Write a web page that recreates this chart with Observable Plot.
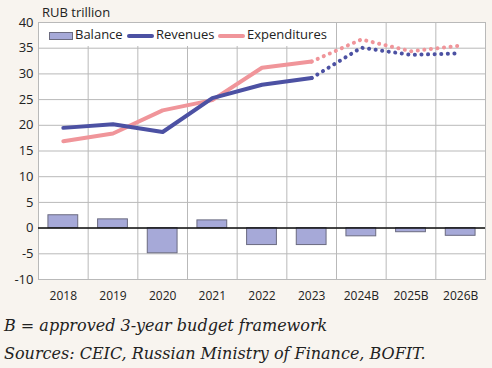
<!DOCTYPE html>
<html>
<head>
<meta charset="utf-8">
<script src="https://cdn.jsdelivr.net/npm/d3@7"></script>
<script src="https://cdn.jsdelivr.net/npm/@observablehq/plot@0.6"></script>
<style>
  html, body { margin: 0; padding: 0; background: #F8F4EF; }
  #wrap { position: relative; width: 492px; height: 368px; background: #F8F4EF; overflow: hidden; }
  #unit { position: absolute; left: 42px; top: 3px; font: 13px "Open Sans", sans-serif; color: #222; }
  #chart { position: absolute; left: 0; top: 0; }
  #legend { position: absolute; left: 39px; top: 23px; width: 290px; height: 23px; background: #fff;
            font: 13px "Open Sans", sans-serif; color: #222; }
  .li { position: absolute; top: 3px; line-height: 17px; white-space: nowrap; }
  .sw { display: inline-block; vertical-align: middle; margin-right: 2px; }
  #cap { position: absolute; left: 4px; top: 312px; font: italic 16px "DejaVu Serif", "Liberation Serif", serif; color: #222; line-height: 28px; }
</style>
</head>
<body>
<div id="wrap">
  <div id="chart"></div>
  <div id="unit">RUB trillion</div>
  <div id="legend">
    <div class="li" style="left:10px"><span class="sw" style="width:22px;height:6px;background:#A6A9D8;border:1px solid #6b6b80;"></span>Balance</div>
    <div class="li" style="left:88px"><span class="sw" style="width:27px;height:4px;background:#4C51A3;border-radius:2px;"></span>Revenues</div>
    <div class="li" style="left:179px"><span class="sw" style="width:27px;height:4px;background:#F0959A;border-radius:2px;"></span>Expenditures</div>
  </div>
  <div id="cap">B = approved 3-year budget framework<br>Sources: CEIC, Russian Ministry of Finance, BOFIT.</div>
</div>
<script>
const categories = ["2018","2019","2020","2021","2022","2023","2024B","2025B","2026B"];
const balance = [2.5, 1.7, -4.9, 1.5, -3.3, -3.3, -1.6, -0.8, -1.5];
const revenues = [19.5, 20.2, 18.7, 25.3, 27.9, 29.2, 35.1, 33.7, 34.0];
const expenditures = [16.9, 18.4, 22.9, 24.9, 31.2, 32.4, 36.7, 34.4, 35.5];
const yTicks = [-10, -5, 0, 5, 10, 15, 20, 25, 30, 35, 40];
const lastActual = 5; // index of 2023

const rows = categories.map((c, i) => ({i, c, balance: balance[i], rev: revenues[i], exp: expenditures[i]}));
const actual = rows.filter(d => d.i <= lastActual);
const planned = rows.filter(d => d.i >= lastActual);

const REV = "#4C51A3", EXP = "#F0959A", GRID = "#b9b9b9";
const font = '"Open Sans", sans-serif';

const chart = Plot.plot({
  width: 492,
  height: 310,
  marginLeft: 38,
  marginRight: 7,
  marginTop: 22,
  marginBottom: 31,
  style: { background: "transparent", fontFamily: font, fontSize: "12px", color: "#222" },
  x: { domain: [-0.5, categories.length - 0.5], axis: null },
  y: { domain: [-10, 40], axis: null },
  marks: [
    Plot.frame({ fill: "#fff", stroke: GRID }),
    Plot.ruleY(yTicks, { stroke: GRID, strokeWidth: 1 }),
    Plot.ruleX(d3.range(categories.length - 1).map(i => i + 0.5), { stroke: GRID, strokeWidth: 1 }),
    Plot.rectY(rows, { x1: d => d.i - 0.3, x2: d => d.i + 0.3, y1: 0, y2: "balance", fill: "#A6A9D8", stroke: "#6b6b80", strokeWidth: 1 }),
    Plot.ruleY([0], { stroke: "#111", strokeWidth: 1.5 }),
    Plot.line(actual, { x: "i", y: "exp", stroke: EXP, strokeWidth: 4 }),
    Plot.line(actual, { x: "i", y: "rev", stroke: REV, strokeWidth: 4 }),
    Plot.line(planned, { x: "i", y: "exp", stroke: EXP, strokeWidth: 4, strokeDasharray: "0.1,6.5", strokeLinecap: "round" }),
    Plot.line(planned, { x: "i", y: "rev", stroke: REV, strokeWidth: 4, strokeDasharray: "0.1,6.5", strokeLinecap: "round" }),
    Plot.axisY(yTicks, { tickSize: 0, tickPadding: 5, fontSize: 13, label: null, tickFormat: d => d < 0 ? "-" + Math.abs(d) : String(d) }),
    Plot.axisX(rows.map(d => d.i), { tickSize: 0, tickPadding: 12, fontSize: 12, label: null, tickFormat: i => categories[i] })
  ]
});
document.getElementById("chart").appendChild(chart);
</script>
</body>
</html>
